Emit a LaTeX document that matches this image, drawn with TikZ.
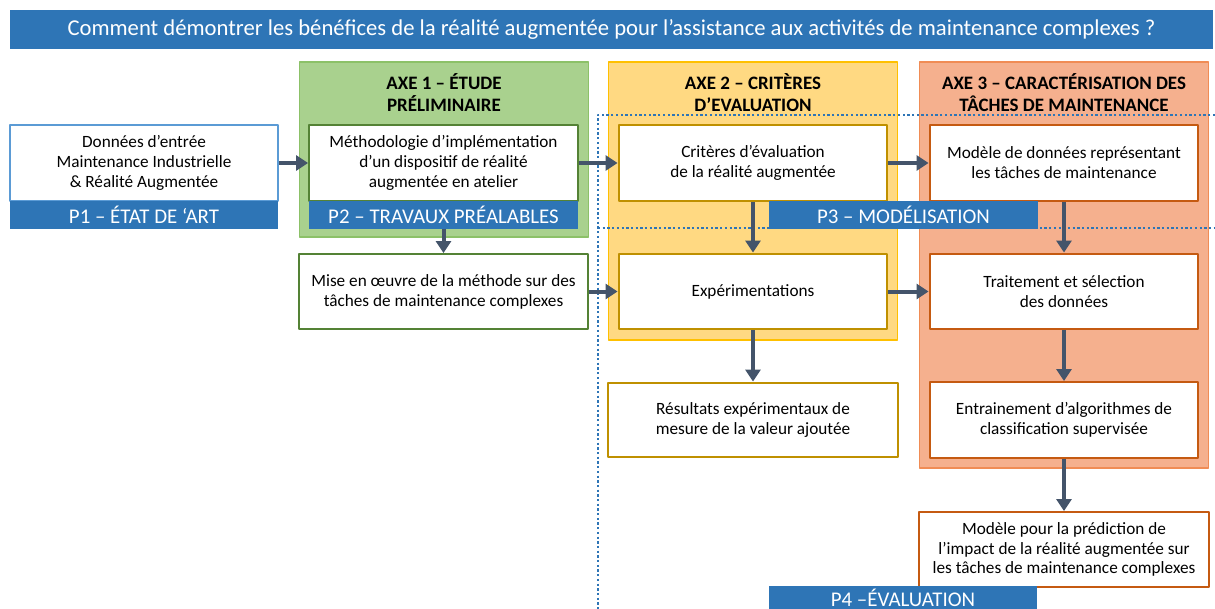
\documentclass[tikz,border=0pt]{standalone}
\usepackage{fontspec}
\setmainfont{Carlito}
\usetikzlibrary{arrows.meta}

\definecolor{barblue}{HTML}{2E75B6}
\definecolor{arrowgray}{HTML}{44546A}
\definecolor{vertfond}{HTML}{A9D18E}
\definecolor{vertbord}{HTML}{8CC168}
\definecolor{vertbox}{HTML}{548235}
\definecolor{orfond}{HTML}{FFD982}
\definecolor{orbord}{HTML}{FFC000}
\definecolor{orbox}{HTML}{BF9000}
\definecolor{saumfond}{HTML}{F5B08E}
\definecolor{saumbord}{HTML}{F08C55}
\definecolor{saumbox}{HTML}{C55A11}
\definecolor{bleubox}{HTML}{5B9BD5}

\begin{document}
\begin{tikzpicture}[x=0.02cm,y=-0.02cm,line join=round,>={Triangle[length=0.24cm,width=0.3cm]},
  box/.style={draw,fill=white,line width=0.04cm,minimum width=5.38cm,minimum height=1.52cm,
    align=center,inner sep=0pt,font=\fontsize{9.8}{11.3}\selectfont},
  widebox/.style={box,minimum width=5.8cm,minimum height=1.5cm},
  bar/.style={fill=barblue,text=white,minimum width=5.38cm,minimum height=0.56cm,
    inner sep=0pt,font=\fontsize{11.9}{13}\selectfont},
  axe/.style={minimum width=5.78cm,inner sep=0pt,line width=0.03cm},
  axetitle/.style={align=center,font=\bfseries\fontsize{10.8}{12.5}\selectfont},
  fleche/.style={->,draw=arrowgray,line width=0.08cm},
  sep/.style={draw=barblue,line width=0.05cm,dash pattern=on 0.046cm off 0.048cm}]

\clip (0,0) rectangle (1215,609);

\node[fill=barblue,text=white,minimum width=24.06cm,minimum height=0.78cm,inner sep=0pt,
  font=\fontsize{12.9}{14}\selectfont] (titre) at (611.5,29.5)
  {Comment démontrer les bénéfices de la réalité augmentée pour l’assistance aux activités de maintenance complexes ?};

% axes
\node[axe,fill=vertfond,draw=vertbord,minimum height=3.5cm] (axe1) at (444,149.5) {};
\node[axe,fill=orfond,draw=orbord,minimum height=5.56cm] (axe2) at (753,201) {};
\node[axe,fill=saumfond,draw=saumbord,minimum height=8.12cm] (axe3) at (1064,265) {};
\node[axetitle] (t1) at (444,93) {AXE 1 – ÉTUDE\\PRÉLIMINAIRE};
\node[axetitle] (t2) at (753,93) {AXE 2 – CRITÈRES\\D’EVALUATION};
\node[axetitle] (t3) at (1064,93) {AXE 3 – CARACTÉRISATION DES\\TÂCHES DE MAINTENANCE};

\draw[sep] (1215,115) -- (598,115) -- (598,609);
\draw[sep] (598,228) -- (1215,228);

% P1, P2
\node[box,draw=bleubox] (donnees) at (144,163) {Données d’entrée\\Maintenance Industrielle\\\& Réalité Augmentée};
\node[bar] (p1) at (144,214.5) {P1 – ÉTAT DE ‘ART};
\node[box,draw=vertbox] (methodo) at (443.5,163) {Méthodologie d’implémentation\\d’un dispositif de réalité\\augmentée en atelier};
\node[bar] (p2) at (443.5,214.5) {P2 – TRAVAUX PRÉALABLES};
\node[widebox,draw=vertbox] (mise) at (443.5,291.5) {Mise en œuvre de la méthode sur des\\tâches de maintenance complexes};

% axe 2
\node[box,draw=orbox] (criteres) at (753,163) {Critères d’évaluation\\de la réalité augmentée};
\node[box,draw=orbox] (experim) at (753,291.5) {Expérimentations};
\node[widebox,draw=orbox] (resultats) at (753,420) {Résultats expérimentaux de\\mesure de la valeur ajoutée};

% axe 3
\node[box,draw=saumbox] (modele) at (1064,163) {Modèle de données représentant\\les tâches de maintenance};
\node[box,draw=saumbox] (traitement) at (1064,291.5) {Traitement et sélection\\des données};
\node[box,draw=saumbox] (entrain) at (1064,420) {Entrainement d’algorithmes de\\classification supervisée};
\node[widebox,draw=saumbox] (predic) at (1064,549.5) {Modèle pour la prédiction de\\l’impact de la réalité augmentée sur\\les tâches de maintenance complexes};

\node[bar] (p3) at (903.5,215) {P3 – MODÉLISATION};
\node[bar,minimum height=0.46cm] (p4) at (903,597.5) {P4 –ÉVALUATION};

% fleches
\draw[fleche] (donnees) -- (methodo);
\draw[fleche] (p2) -- (mise);
\draw[fleche] (methodo) -- (criteres);
\draw[fleche] (mise) -- (experim);
\draw[fleche] (criteres) -- (modele);
\draw[fleche] (experim) -- (traitement);
\draw[fleche] (criteres) -- (experim);
\draw[fleche] (experim) -- (resultats);
\draw[fleche] (modele) -- (traitement);
\draw[fleche] (traitement) -- (entrain);
\draw[fleche] (entrain) -- (predic);
\end{tikzpicture}
\end{document}
